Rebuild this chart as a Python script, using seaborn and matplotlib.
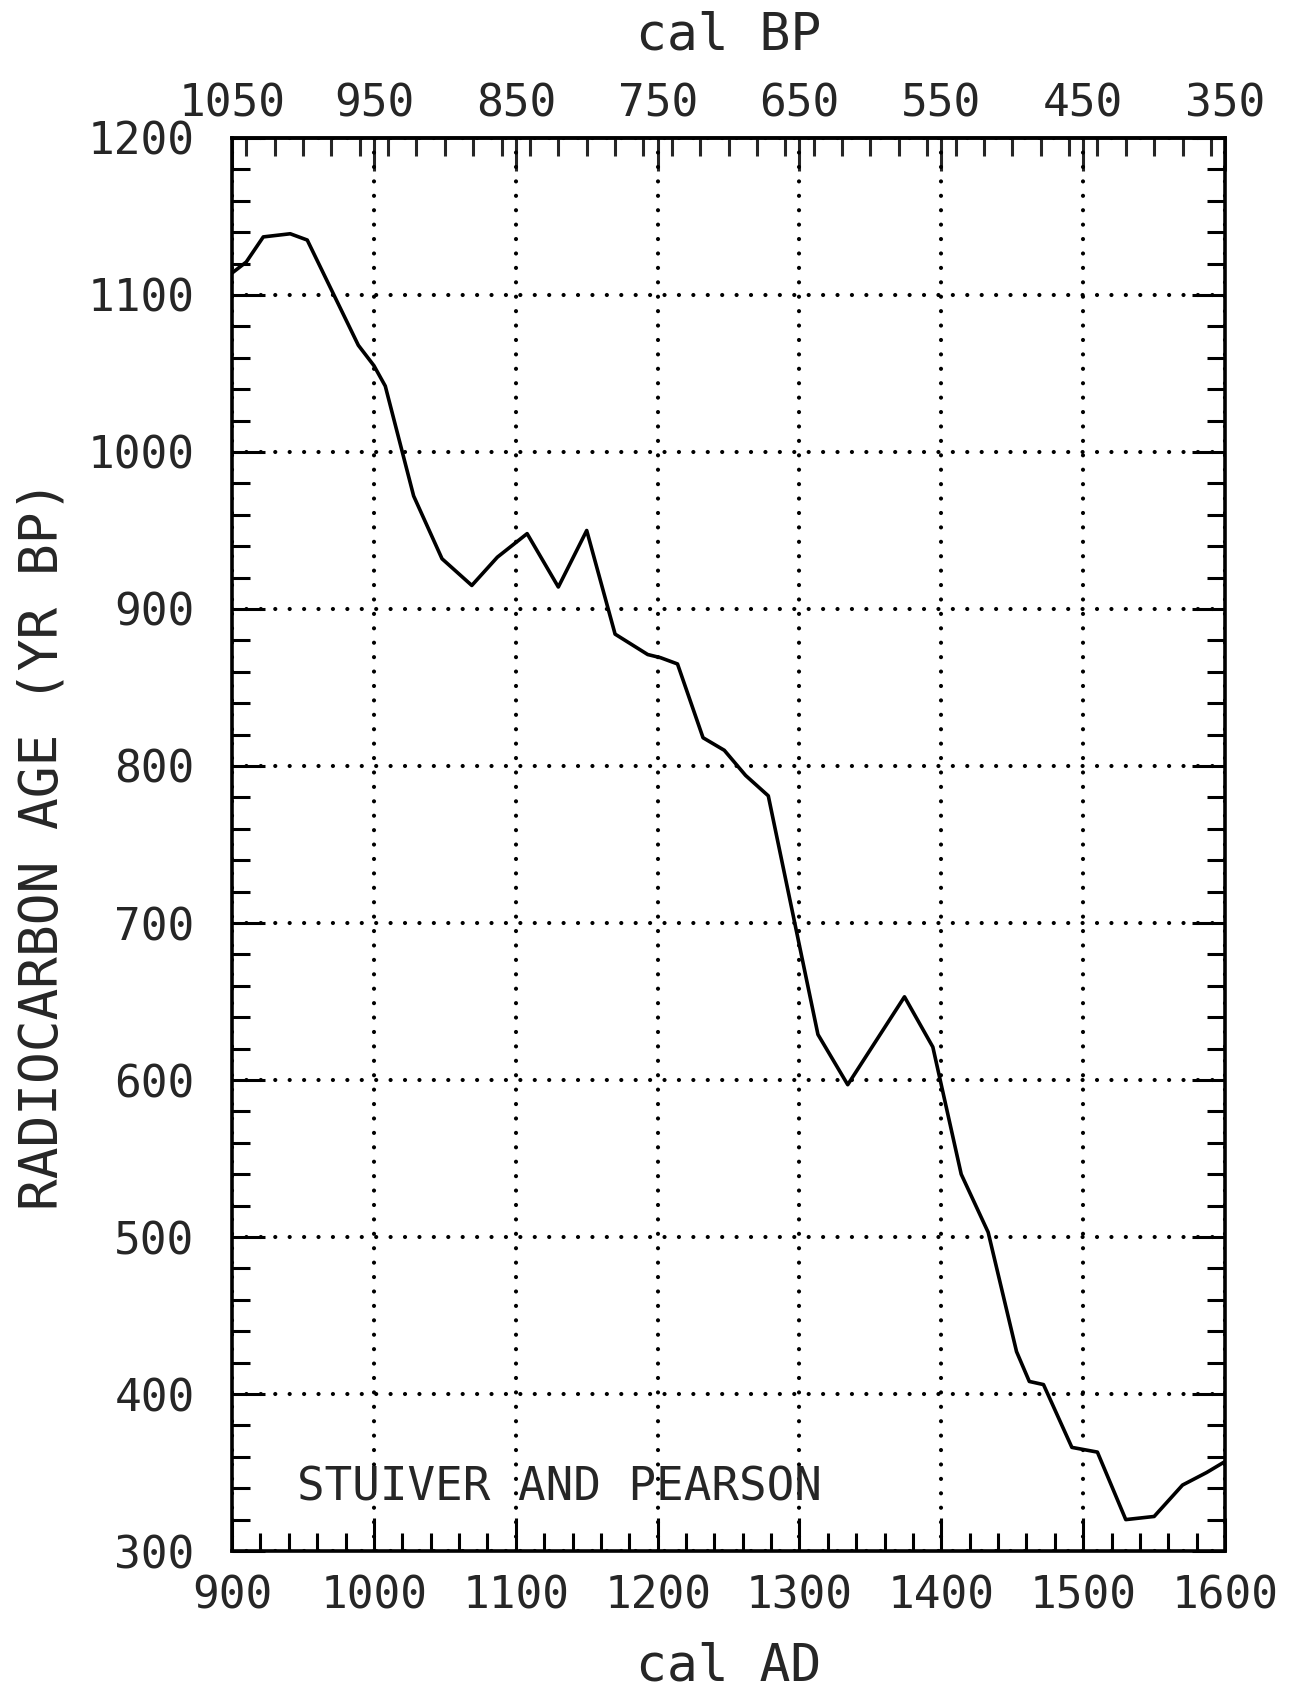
import matplotlib
matplotlib.use("Agg")
import matplotlib.pyplot as plt
from matplotlib.ticker import MultipleLocator
import seaborn as sns

# Stuiver & Pearson calibration curve
cal_ad = [900, 910, 922, 941, 953, 989, 1000, 1008, 1028, 1048, 1069, 1087,
          1108, 1130, 1150, 1170, 1193, 1202, 1214, 1232, 1247, 1262, 1278,
          1313, 1334, 1374, 1394, 1414, 1433, 1453, 1462, 1472, 1492, 1510,
          1530, 1550, 1570, 1587, 1600]
c14_age = [1114, 1121, 1137, 1139, 1135, 1068, 1055, 1042, 972, 932, 915, 933,
           948, 914, 950, 884, 871, 869, 865, 818, 810, 794, 781,
           629, 597, 653, 621, 540, 503, 427, 408, 406, 366, 363,
           320, 322, 342, 350, 357]

ad_ticks = [900, 1000, 1100, 1200, 1300, 1400, 1500, 1600]
bp_ticks = [1050, 950, 850, 750, 650, 550, 450, 350]
age_ticks = [300, 400, 500, 600, 700, 800, 900, 1000, 1100, 1200]

sns.set_style("ticks")
plt.rcParams["font.family"] = ["DejaVu Sans Mono"]

fig = plt.figure(figsize=(12.95, 16.89), dpi=100)
ax = fig.add_axes([0.1792, 0.0817, 0.7668, 0.8366])

sns.lineplot(x=cal_ad, y=c14_age, ax=ax, color="black", linewidth=2.6)

ax.set_xlim(900, 1600)
ax.set_ylim(300, 1200)
ax.set_xticks(ad_ticks)
ax.set_yticks(age_ticks)
ax.xaxis.set_minor_locator(MultipleLocator(20))
ax.yaxis.set_minor_locator(MultipleLocator(20))

# dotted grid: round dots about 14 px apart
ax.grid(True, which="major", color="black", linewidth=3.0,
        linestyle=(0, (0.01, 3.45)), dash_capstyle="round")

for s in ax.spines.values():
    s.set_visible(True)
    s.set_linewidth(2.6)
    s.set_color("black")

ax.tick_params(which="both", direction="in", top=False, right=True,
               width=2.2, color="black", labelsize=32)
ax.tick_params(which="major", length=24)
ax.tick_params(which="minor", length=13)
ax.tick_params(axis="x", pad=17)
ax.tick_params(axis="y", pad=27)

# top axis in cal BP
top = ax.secondary_xaxis("top", functions=(lambda x: 1950 - x, lambda x: 1950 - x))
top.set_xticks(bp_ticks)
top.xaxis.set_minor_locator(MultipleLocator(20))
top.tick_params(which="both", direction="in", width=2.2, labelsize=32, pad=9)
top.tick_params(which="major", length=24)
top.tick_params(which="minor", length=13)
top.spines["top"].set_linewidth(2.6)
top.set_xlabel("cal BP", fontsize=37, labelpad=24)

ax.set_xlabel("cal AD", fontsize=37, labelpad=17)
ax.set_ylabel("RADIOCARBON AGE (YR BP)", fontsize=38, labelpad=14)

ax.text(946, 340, "STUIVER AND PEARSON", fontsize=33, ha="left", va="center")

fig.savefig("out.png", dpi=100)
